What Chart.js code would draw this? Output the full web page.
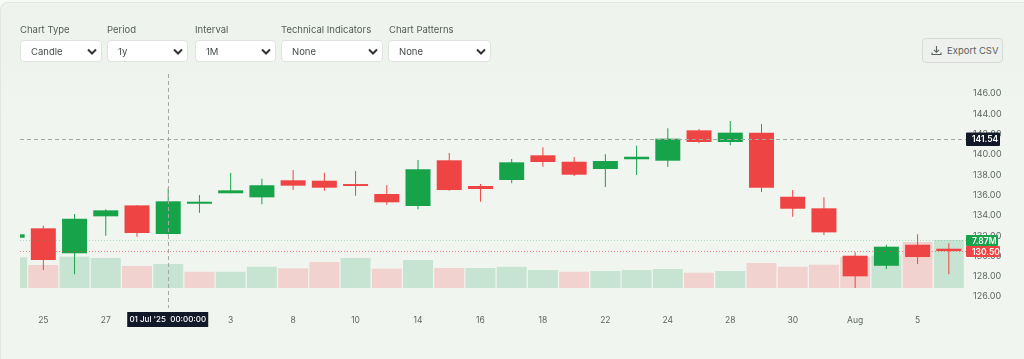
<!DOCTYPE html>
<html lang="en">
<head>
<meta charset="UTF-8">
<title>Candle chart</title>
<script src="https://cdn.jsdelivr.net/npm/chart.js"></script>
<style>
    html, body { margin: 0; padding: 0; width: 1024px; height: 359px; overflow: hidden; background: #f7f9f7; }
    body { font-family: Inter, "Noto Sans", sans-serif; color: #555c58; }
    #card { position: absolute; left: 0; top: 2px; width: 1024px; height: 357px; box-sizing: border-box; background: linear-gradient(#eef3ed 60px, #f1f5f0 110px); border-top: 1px solid #e2e7e2; border-left: 1px solid #e2e7e2; border-top-left-radius: 8px; }
    canvas { position: absolute; left: 0; top: 0; }
    .field-label { position: absolute; top: 24px; font-size: 9.5px; line-height: 12px; white-space: nowrap; }
    select { position: absolute; top: 40px; height: 22px; box-sizing: border-box; margin: 0; padding: 0 0 0 10px; border: 1px solid #dfe3df; border-radius: 4px; font: 9.5px Inter, sans-serif; color: #454b48; appearance: none; -webkit-appearance: none;
        background: #fff url("data:image/svg+xml,%3Csvg xmlns='http://www.w3.org/2000/svg' width='10' height='7' viewBox='0 0 10 7'%3E%3Cpath d='M1 1.5 5 5.5 9 1.5' fill='none' stroke='%23333' stroke-width='2'/%3E%3C/svg%3E") no-repeat right 4px center; }
    #export { position: absolute; left: 922px; top: 38px; width: 81px; height: 25px; box-sizing: border-box; padding: 0 0 0 8px; display: flex; align-items: center; gap: 5px; background: #edf0ed; border: 1px solid #d5dad6; border-radius: 4px; font: 9.5px Inter, sans-serif; color: #5b625e; }
</style>
</head>
<body>
<div id="card"></div>
<canvas id="chart" width="1024" height="359"></canvas>

<span class="field-label" style="left:20px">Chart Type</span>
<span class="field-label" style="left:107px">Period</span>
<span class="field-label" style="left:195px">Interval</span>
<span class="field-label" style="left:281px">Technical Indicators</span>
<span class="field-label" style="left:389px">Chart Patterns</span>
<select style="left:20px;width:82px"><option>Candle</option></select>
<select style="left:107px;width:81px"><option>1y</option></select>
<select style="left:195px;width:81px"><option>1M</option></select>
<select style="left:281px;width:102px"><option>None</option></select>
<select style="left:388px;width:103px"><option>None</option></select>
<button id="export">
    <svg width="11" height="11" viewBox="0 0 11 11"><path d="M5.5 1v6M3 4.8l2.5 2.5L8 4.8M1 7.5v2h9v-2" fill="none" stroke="#5b625e" stroke-width="1.1"/></svg>
    Export CSV
</button>

<script>
    // Daily session labels, one per candle
    const dates = ["24","25","26","27","30","Jul","2","3","7","8","9","10","11","14","15","16","17","18","21","22","23","24","25","28","29","30","31","Aug","4","5","6"];

    // OHLC
    const opens  = [131.81,132.74,130.28,133.92,135.00,132.18,135.16,136.19,135.79,137.47,137.43,137.10,136.12,134.94,139.44,136.91,137.50,139.93,139.30,138.58,139.54,139.40,142.39,141.24,142.16,135.85,134.71,130.04,129.05,131.12,130.73];
    const highs  = [132.20,133.00,134.15,134.61,135.00,136.68,136.02,138.22,137.63,138.48,138.22,138.38,136.98,139.47,140.16,137.10,139.57,140.72,139.76,140.03,140.88,142.59,142.52,143.31,143.01,136.51,135.79,130.37,131.12,132.15,131.26];
    const lows   = [131.80,128.63,128.21,132.01,131.91,132.10,134.28,136.19,135.10,136.51,136.44,135.95,135.06,134.61,136.44,135.36,137.17,138.81,137.89,136.81,137.99,138.78,141.11,140.92,136.32,133.88,132.08,126.86,128.73,129.22,128.21];
    const closes = [132.15,129.62,133.68,134.51,132.28,135.40,135.36,136.48,136.98,136.94,136.74,136.91,135.30,138.55,136.51,136.61,139.24,139.27,138.02,139.37,139.79,141.57,141.24,142.16,136.74,134.67,132.34,128.01,130.93,129.91,130.50];

    // Volume in millions, and whether each volume bar is painted as up or down
    const volumes = [5.03,3.77,5.13,4.92,3.61,3.94,2.67,2.67,3.49,3.23,4.26,4.92,3.17,4.59,3.28,3.28,3.49,2.95,2.67,2.79,2.95,3.12,2.51,2.79,4.10,3.49,3.82,5.08,5.30,7.54,7.87];
    const volumeDir = ["up","down","up","up","down","up","down","up","up","down","down","up","down","up","down","up","up","up","down","up","up","up","down","up","down","down","down","down","up","down","up"];

    // Crosshair and last-value markers
    const crosshairIndex = 5;
    const crosshairLabel = "01 Jul '25  00:00:00";
    const crosshairPrice = 141.54;
    const lastClose = 130.50;
    const lastVolume = 7.87;

    const GREEN = "#16a34a";
    const RED = "#ef4444";
    const candleColors = opens.map((o, i) => closes[i] >= o ? GREEN : RED);
    const volumeColors = volumeDir.map(d => d === "up" ? "#c7e4d2" : "#f2d2cf");

    const xy = (values) => values.map((v, i) => ({ x: i, y: v }));

    function priceLabel(ctx, text, top, height, width, bg, fg, left) {
        ctx.fillStyle = bg;
        ctx.beginPath();
        ctx.roundRect(left, top, width, height, 1);
        ctx.fill();
        ctx.fillStyle = fg;
        ctx.textAlign = "left";
        ctx.textBaseline = "middle";
        ctx.fillText(text, left + 6, top + height / 2 + 0.5);
    }

    const overlays = {
        id: "overlays",
        afterDraw(chart) {
            const { ctx, chartArea: area, scales } = chart;
            const px = scales.x.getPixelForValue(crosshairIndex);
            const py = scales.y.getPixelForValue(crosshairPrice);
            const closeY = scales.y.getPixelForValue(lastClose);
            const volY = scales.vol.getPixelForValue(lastVolume);

            const hline = (y, color, dash) => {
                ctx.strokeStyle = color;
                ctx.setLineDash(dash);
                ctx.beginPath();
                ctx.moveTo(area.left, y);
                ctx.lineTo(area.right, y);
                ctx.stroke();
            };

            ctx.save();
            ctx.lineWidth = 1;
            hline(Math.round(volY) + 0.5, "rgba(22,163,74,0.3)", [1, 2]);
            hline(Math.round(closeY) + 0.5, "rgba(239,68,68,0.6)", [1, 2]);
            hline(Math.round(py) + 0.5, "#a3a8a6", [4, 3]);

            ctx.strokeStyle = "#a3a8a6";
            ctx.setLineDash([4, 3]);
            ctx.beginPath();
            ctx.moveTo(Math.round(px) + 0.5, area.top);
            ctx.lineTo(Math.round(px) + 0.5, area.bottom);
            ctx.stroke();
            ctx.setLineDash([]);

            ctx.font = "600 8.5px Inter, sans-serif";
            priceLabel(ctx, crosshairPrice.toFixed(2), py - 6.5, 13.5, 34, "#111827", "#fff", area.right);
            priceLabel(ctx, lastVolume.toFixed(2) + "M", volY - 5, 11, 32, GREEN, "#fff", area.right);
            priceLabel(ctx, lastClose.toFixed(2), closeY - 5, 11, 34, RED, "#fff", area.right);

            ctx.font = "500 8px Inter, sans-serif";
            ctx.fillStyle = "#111827";
            ctx.fillRect(px - 41, 312, 81, 15);
            ctx.fillStyle = "#fff";
            ctx.textAlign = "center";
            ctx.textBaseline = "middle";
            ctx.fillText(crosshairLabel, px - 0.5, 320);
            ctx.restore();
        }
    };

    new Chart(document.getElementById("chart").getContext("2d"), {
        type: "bar",
        data: {
            datasets: [
                {
                    label: "Open/Close",
                    data: xy(opens.map((o, i) => [o, closes[i]])),
                    backgroundColor: candleColors,
                    barThickness: 25,
                    grouped: false,
                    inflateAmount: 0,
                    order: 1
                },
                {
                    label: "High/Low",
                    data: xy(lows.map((l, i) => [l, highs[i]])),
                    backgroundColor: candleColors,
                    barThickness: 1,
                    grouped: false,
                    inflateAmount: 0,
                    order: 2
                },
                {
                    label: "Volume",
                    data: xy(volumes),
                    yAxisID: "vol",
                    backgroundColor: volumeColors,
                    barThickness: 30,
                    grouped: false,
                    inflateAmount: 0,
                    order: 3
                }
            ]
        },
        plugins: [overlays],
        options: {
            responsive: false,
            animation: false,
            events: [],
            layout: { padding: { left: 20, top: 74 } },
            plugins: { legend: { display: false }, tooltip: { enabled: false } },
            scales: {
                x: {
                    type: "linear",
                    offset: false,
                    min: 0.253,
                    max: 30.55,
                    grid: { display: false, drawTicks: false },
                    border: { display: false },
                    afterFit: (scale) => { scale.height = 51; },
                    ticks: {
                        stepSize: 1,
                        autoSkip: false,
                        includeBounds: false,
                        maxRotation: 0,
                        padding: 7,
                        color: "#5f6663",
                        font: { family: "Inter", size: 8.5 },
                        // every second session is labelled; the crosshair tag covers its own slot
                        callback: (v) => (v % 2 === 1 && v !== crosshairIndex) ? dates[v] : null
                    }
                },
                y: {
                    position: "right",
                    min: 124.89,
                    max: 147.94,
                    grid: { display: false, drawTicks: false },
                    border: { display: false },
                    afterFit: (scale) => { scale.width = 58; },
                    ticks: {
                        stepSize: 2,
                        includeBounds: false,
                        padding: 7,
                        color: "#5f6663",
                        font: { family: "Inter", size: 9 },
                        callback: (v) => v.toFixed(2)
                    }
                },
                vol: {
                    display: false,
                    min: -3.28,
                    max: 35.1
                }
            }
        }
    });
</script>
</body>
</html>
